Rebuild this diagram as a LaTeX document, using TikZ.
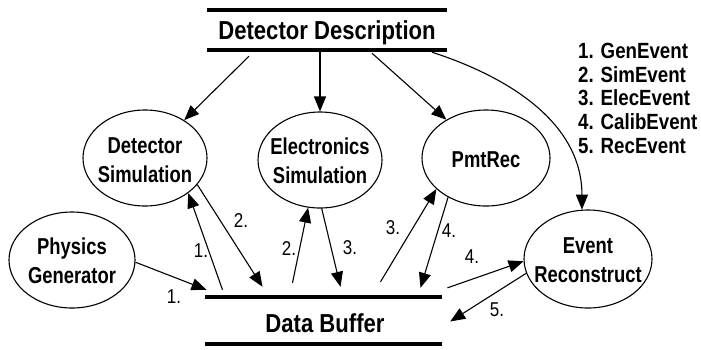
\documentclass[tikz,border=0pt]{standalone}
\usepackage{fontspec}
\usetikzlibrary{arrows.meta,shapes.geometric}
\newfontfamily\cf{Liberation Sans}[FakeStretch=0.85]
\newfontfamily\cn{Liberation Sans}[FakeStretch=0.8]
\begin{document}
\begin{tikzpicture}[x=1pt,y=-1pt,
  ell/.style={ellipse,draw,line width=1.1pt,inner sep=0pt},
  etext/.style={font=\cn\bfseries\fontsize{23}{29}\selectfont,align=center,inner sep=0pt},
  bartext/.style={font=\cf\bfseries\fontsize{26}{30}\selectfont,inner sep=0pt,anchor=base},
  barbox/.style={rectangle,draw=none,inner sep=0pt},
  arr/.style={line width=1.1pt,-{Triangle[length=15pt,width=12pt]}},
  num/.style={font=\cf\fontsize{20}{22}\selectfont,inner sep=0pt},
  leg/.style={font=\cf\bfseries\fontsize{22}{24}\selectfont,anchor=base west,inner sep=0pt},
  bar/.style={line width=3.5pt}]
\useasboundingbox (0,0) rectangle (701,349);

% bars
\node[barbox,minimum width=240pt,minimum height=40pt] (dd) at (327,30) {};
\node[bartext] (ddt) at (327,39) {Detector Description};
\draw[bar] (dd.north west) -- (dd.north east);
\draw[bar] (dd.south west) -- (dd.south east);

\node[barbox,minimum width=237pt,minimum height=47pt] (db) at (323.5,320.5) {};
\node[bartext] (dbt) at (325,332) {Data Buffer};
\draw[bar] (db.north west) -- (db.north east);
\draw[bar] (db.south west) -- (db.south east);

% ellipses
\node[ell,minimum width=124pt,minimum height=96pt] (ds) at (145,158) {};
\node[etext] (dst) at (145,160) {Detector\\Simulation};
\node[ell,minimum width=124pt,minimum height=96pt] (es) at (320,160) {};
\node[etext] (est) at (320,161) {Electronics\\Simulation};
\node[ell,minimum width=128pt,minimum height=96pt] (pr) at (486,158) {};
\node[etext] (prt) at (486,160) {PmtRec};
\node[ell,minimum width=126pt,minimum height=96pt] (pg) at (72,260) {};
\node[etext] (pgt) at (72,261) {Physics\\Generator};
\node[ell,minimum width=128pt,minimum height=98pt] (er) at (588,259) {};
\node[etext] (ert) at (588,260) {Event\\Reconstruct};

% legend
\node[leg] (l1) at (578,58) {1. GenEvent};
\node[leg] (l2) at (578,82) {2. SimEvent};
\node[leg] (l3) at (578,105) {3. ElecEvent};
\node[leg] (l4) at (578,129) {4. CalibEvent};
\node[leg] (l5) at (578,153) {5. RecEvent};

% detector description arrows
\draw[arr] ([shift={(-78,6)}]dd.south) -- (ds.44);
\draw[arr] ([shift={(-7,2)}]dd.south) -- (es.north);
\draw[arr] ([shift={(45,3)}]dd.south) -- (pr.136);
\draw[arr] ([shift={(105,2)}]dd.south) to[out=-18,in=90] (er.97);

% data flow arrows
\draw[arr] (pg.-2) -- ([shift={(-117,-7)}]db.north);
\draw[arr] ([shift={(-101,-7)}]db.north) -- (ds.-39);
\draw[arr] (ds.-27) -- ([shift={(-61,-10)}]db.north);
\draw[arr] ([shift={(-31,-14)}]db.north) -- (es.-104);
\draw[arr] (es.-88) -- ([shift={(17,-10)}]db.north);
\draw[arr] ([shift={(57,-15)}]db.north) -- (pr.212);
\draw[arr] (pr.-134) -- ([shift={(97,-9)}]db.north);
\draw[arr] ([shift={(124,-9)}]db.north) -- (er.182);
\draw[arr] (er.193) -- ([shift={(8,1)}]db.east);

% numbers
\node[num] (n1) at (174,297) {1.};
\node[num] (n2) at (201,251) {1.};
\node[num] (n3) at (241,221) {2.};
\node[num] (n4) at (289,249) {2.};
\node[num] (n5) at (350,248) {3.};
\node[num] (n6) at (393,228) {3.};
\node[num] (n7) at (449,231) {4.};
\node[num] (n8) at (472,257) {4.};
\node[num] (n9) at (497,310) {5.};
\end{tikzpicture}
\end{document}
